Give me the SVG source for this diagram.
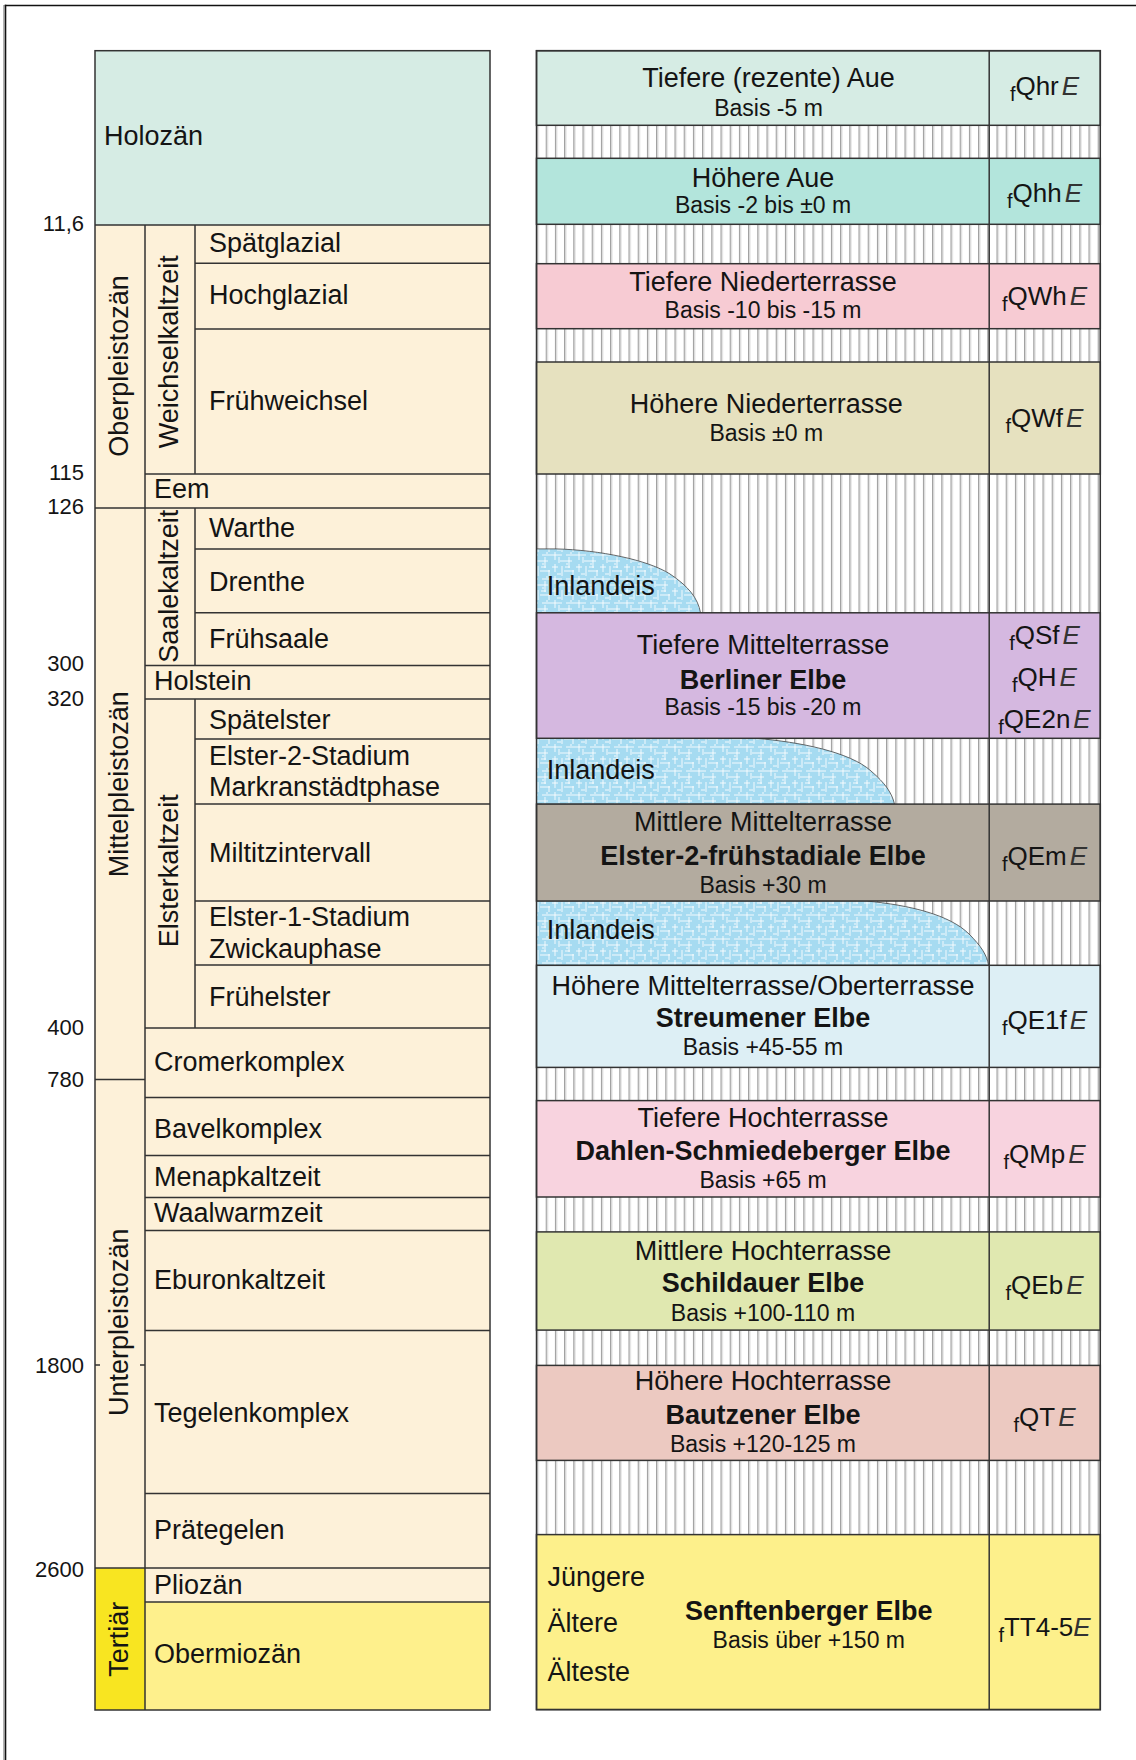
<svg xmlns="http://www.w3.org/2000/svg" width="1136" height="1760" viewBox="0 0 1136 1760">
<style>
text { font-family: "Liberation Sans", Arial, Helvetica, sans-serif; fill: #141414; }
.l { font-size: 27px; }
.n { font-size: 22px; text-anchor: end; }
.c { text-anchor: middle; }
.b { font-weight: bold; }
.s { font-size: 23px; }
.sym { font-size: 26px; text-anchor: middle; }
.sub { font-size: 20px; }
.it { font-style: italic; fill: #333; }
.ln { stroke: #333; stroke-width: 1.5; fill: none; }
.box { stroke: #333; stroke-width: 1.5; }
.ice { fill: url(#ice); stroke: #444; stroke-width: 0.8; }
</style>
<defs>
<pattern id="hatch" width="9.2" height="10" patternUnits="userSpaceOnUse" x="536.5" y="0">
<rect width="9.2" height="10" fill="#fff"/>
<rect x="0" width="1.3" height="10" fill="#9b9b9b"/>
<rect x="1.3" width="1" height="10" fill="#dadada"/>
</pattern>
<pattern id="ice" width="24" height="24" patternUnits="userSpaceOnUse">
<rect width="24" height="24" fill="#a6dbf1"/>
<path d="M0 3H10M14 3H24M3 0V8M3 12V20M8 9H20M17 5V16M0 15H6M10 14V24M12 19H22M21 18V24M5 22H9M15 11V13M7 5V11M19 0V2M13 15H18" stroke="#fff" stroke-width="1" fill="none" opacity="0.85"/>
</pattern>
</defs>
<rect width="1136" height="1760" fill="#fff"/>
<g id="frame">
<line x1="3.8" y1="5" x2="3.8" y2="1760" stroke="#aaa" stroke-width="1.4"/>
<line x1="5.5" y1="4.8" x2="5.5" y2="1760" stroke="#111" stroke-width="1.6"/>
<line x1="4.8" y1="5.5" x2="1136" y2="5.5" stroke="#111" stroke-width="1.6"/>
</g>

<!-- LEFT STRATIGRAPHY COLUMN -->
<g id="chronology">
<rect x="95" y="50.7" width="395" height="174.3" fill="#d6ece4"/>
<rect x="95" y="225" width="395" height="1343" fill="#fdf1d9"/>
<rect x="95" y="1568" width="50" height="142" fill="#f8e521"/>
<rect x="145" y="1568" width="345" height="34" fill="#fdf1d9"/>
<rect x="145" y="1602" width="345" height="108" fill="#fef08c"/>
</g>
<g id="rules">
<rect class="ln" x="95" y="50.7" width="395" height="1659.3"/>
<path class="ln" d="M95 225H490M195 263.3H490M195 329H490M145 474H490M95 507.9H490M195 548.9H490M195 612.8H490M145 665.6H490M145 698.9H490M195 739.1H490M195 804.1H490M195 901H490M195 964.9H490M145 1028H490M95 1079.6H145M145 1097.5H490M145 1155.5H490M145 1197.5H490M145 1230.5H490M145 1330.5H490M145 1493.5H490M95 1568H490M145 1602H490M95 1364.9H100M140 1364.9H145M145 225V1710M195 225V474M195 507.9V665.6M195 698.9V1028"/>
</g>
<g id="ages">
<text class="n" x="84" y="230.5">11,6</text>
<text class="n" x="84" y="480">115</text>
<text class="n" x="84" y="513.7">126</text>
<text class="n" x="84" y="671.3">300</text>
<text class="n" x="84" y="705.8">320</text>
<text class="n" x="84" y="1034.9">400</text>
<text class="n" x="84" y="1086.8">780</text>
<text class="n" x="84" y="1372.5">1800</text>
<text class="n" x="84" y="1576.5">2600</text>
</g>
<g id="series-labels">
<text class="l c" transform="translate(128.3,366) rotate(-90)">Oberpleistozän</text>
<text class="l c" transform="translate(178.3,351.7) rotate(-90)">Weichselkaltzeit</text>
<text class="l c" transform="translate(178.3,586.2) rotate(-90)">Saalekaltzeit</text>
<text class="l c" transform="translate(128.3,784.2) rotate(-90)">Mittelpleistozän</text>
<text class="l c" transform="translate(178.3,870.8) rotate(-90)">Elsterkaltzeit</text>
<text class="l c" transform="translate(128.3,1322.3) rotate(-90)">Unterpleistozän</text>
<text class="l c" transform="translate(128.3,1639.3) rotate(-90)">Tertiär</text>
</g>
<g id="stage-labels">
<text class="l" x="104" y="145.3">Holozän</text>
<text class="l" x="209" y="252.3">Spätglazial</text>
<text class="l" x="209" y="304">Hochglazial</text>
<text class="l" x="209" y="410">Frühweichsel</text>
<text class="l" x="154" y="498.4">Eem</text>
<text class="l" x="209" y="537.4">Warthe</text>
<text class="l" x="209" y="591">Drenthe</text>
<text class="l" x="209" y="648.4">Frühsaale</text>
<text class="l" x="154" y="689.7">Holstein</text>
<text class="l" x="209" y="728.8">Spätelster</text>
<text class="l" x="209" y="765.1">Elster-2-Stadium</text>
<text class="l" x="209" y="795.7">Markranstädtphase</text>
<text class="l" x="209" y="861.6">Miltitzintervall</text>
<text class="l" x="209" y="925.8">Elster-1-Stadium</text>
<text class="l" x="209" y="958.4">Zwickauphase</text>
<text class="l" x="209" y="1006.2">Frühelster</text>
<text class="l" x="154" y="1071.3">Cromerkomplex</text>
<text class="l" x="154" y="1138.1">Bavelkomplex</text>
<text class="l" x="154" y="1186.3">Menapkaltzeit</text>
<text class="l" x="154" y="1221.6">Waalwarmzeit</text>
<text class="l" x="154" y="1289">Eburonkaltzeit</text>
<text class="l" x="154" y="1421.6">Tegelenkomplex</text>
<text class="l" x="154" y="1538.6">Prätegelen</text>
<text class="l" x="154" y="1593.5">Pliozän</text>
<text class="l" x="154" y="1662.7">Obermiozän</text>
</g>

<!-- RIGHT TERRACE TABLE -->
<g id="gaps">
<rect x="536.5" y="125.3" width="563.8" height="33" fill="url(#hatch)"/>
<rect x="536.5" y="224.3" width="563.8" height="39.4" fill="url(#hatch)"/>
<rect x="536.5" y="328.7" width="563.8" height="33.3" fill="url(#hatch)"/>
<rect x="536.5" y="474" width="563.8" height="138.8" fill="url(#hatch)"/>
<rect x="536.5" y="738.3" width="563.8" height="65.8" fill="url(#hatch)"/>
<rect x="536.5" y="901" width="563.8" height="64.3" fill="url(#hatch)"/>
<rect x="536.5" y="1067.4" width="563.8" height="33.2" fill="url(#hatch)"/>
<rect x="536.5" y="1197" width="563.8" height="34.9" fill="url(#hatch)"/>
<rect x="536.5" y="1330.1" width="563.8" height="35.3" fill="url(#hatch)"/>
<rect x="536.5" y="1460.4" width="563.8" height="74.2" fill="url(#hatch)"/>
</g>
<g id="inlandeis-1">
<path class="ice" d="M536.5,548.9 L556,548.9 C600,550 648,560 670,574 C688,586 698,598 700.5,612.8 L536.5,612.8 Z"/>
<text class="l" x="546.7" y="594.8">Inlandeis</text>
</g>
<g id="inlandeis-2">
<path class="ice" d="M536.5,738.3 L756,738.3 C800,742 850,752 871,771 C885,783 892,793 894.5,804.1 L536.5,804.1 Z"/>
<text class="l" x="546.7" y="778.5">Inlandeis</text>
</g>
<g id="inlandeis-3">
<path class="ice" d="M536.5,901 L866,901 C910,905 950,915 969,934 C981,946 987,955 988.5,965.3 L536.5,965.3 Z"/>
<text class="l" x="546.7" y="939.2">Inlandeis</text>
</g>

<g id="t-tiefere-aue">
<rect class="box" x="536.5" y="50.7" width="563.8" height="74.6" fill="#d6ece4"/>
<text class="l c" x="768.5" y="87.3">Tiefere (rezente) Aue</text>
<text class="s c" x="768.5" y="115.7">Basis -5 m</text>
<text class="sym" x="1044.5" y="95"><tspan class="sub" dy="6">f</tspan><tspan dy="-6">Qhr</tspan><tspan class="it" dx="3">E</tspan></text>
</g>
<g id="t-hoehere-aue">
<rect class="box" x="536.5" y="158.3" width="563.8" height="66" fill="#b3e5dc"/>
<text class="l c" x="763" y="186.7">Höhere Aue</text>
<text class="s c" x="763" y="213.3">Basis -2 bis ±0 m</text>
<text class="sym" x="1044.5" y="201.7"><tspan class="sub" dy="6">f</tspan><tspan dy="-6">Qhh</tspan><tspan class="it" dx="3">E</tspan></text>
</g>
<g id="t-tiefere-niederterrasse">
<rect class="box" x="536.5" y="263.7" width="563.8" height="65" fill="#f7cbd3"/>
<text class="l c" x="763" y="290.7">Tiefere Niederterrasse</text>
<text class="s c" x="763" y="318.3">Basis -10 bis -15 m</text>
<text class="sym" x="1044.5" y="305"><tspan class="sub" dy="6">f</tspan><tspan dy="-6">QWh</tspan><tspan class="it" dx="3">E</tspan></text>
</g>
<g id="t-hoehere-niederterrasse">
<rect class="box" x="536.5" y="362" width="563.8" height="112" fill="#e6e1bf"/>
<text class="l c" x="766.3" y="412.7">Höhere Niederterrasse</text>
<text class="s c" x="766.3" y="440.7">Basis ±0 m</text>
<text class="sym" x="1044.5" y="426.7"><tspan class="sub" dy="6">f</tspan><tspan dy="-6">QWf</tspan><tspan class="it" dx="3">E</tspan></text>
</g>
<g id="t-tiefere-mittelterrasse">
<rect class="box" x="536.5" y="612.8" width="563.8" height="125.5" fill="#d5b8e0"/>
<text class="l c" x="763" y="654.1">Tiefere Mittelterrasse</text>
<text class="l c b" x="763" y="688.6">Berliner Elbe</text>
<text class="s c" x="763" y="714.6">Basis -15 bis -20 m</text>
<text class="sym" x="1044.5" y="643.8"><tspan class="sub" dy="6">f</tspan><tspan dy="-6">QSf</tspan><tspan class="it" dx="3">E</tspan></text>
<text class="sym" x="1044.5" y="685.5"><tspan class="sub" dy="6">f</tspan><tspan dy="-6">QH</tspan><tspan class="it" dx="3">E</tspan></text>
<text class="sym" x="1044.5" y="728"><tspan class="sub" dy="6">f</tspan><tspan dy="-6">QE2n</tspan><tspan class="it" dx="3">E</tspan></text>
</g>
<g id="t-mittlere-mittelterrasse">
<rect class="box" x="536.5" y="804.1" width="563.8" height="96.9" fill="#b3ab9f"/>
<text class="l c" x="763" y="831.3">Mittlere Mittelterrasse</text>
<text class="l c b" x="763" y="864.6">Elster-2-frühstadiale Elbe</text>
<text class="s c" x="763" y="892.5">Basis +30 m</text>
<text class="sym" x="1044.5" y="864.6"><tspan class="sub" dy="6">f</tspan><tspan dy="-6">QEm</tspan><tspan class="it" dx="3">E</tspan></text>
</g>
<g id="t-hoehere-mittelterrasse">
<rect class="box" x="536.5" y="965.3" width="563.8" height="102.1" fill="#ddeff5"/>
<text class="l c" x="763" y="994.7">Höhere Mittelterrasse/Oberterrasse</text>
<text class="l c b" x="763" y="1027.3">Streumener Elbe</text>
<text class="s c" x="763" y="1055.2">Basis +45-55 m</text>
<text class="sym" x="1044.5" y="1029.2"><tspan class="sub" dy="6">f</tspan><tspan dy="-6">QE1f</tspan><tspan class="it" dx="3">E</tspan></text>
</g>
<g id="t-tiefere-hochterrasse">
<rect class="box" x="536.5" y="1100.6" width="563.8" height="96.4" fill="#f8d3df"/>
<text class="l c" x="763" y="1127">Tiefere Hochterrasse</text>
<text class="l c b" x="763" y="1160.4">Dahlen-Schmiedeberger Elbe</text>
<text class="s c" x="763" y="1188.1">Basis +65 m</text>
<text class="sym" x="1044.5" y="1162.7"><tspan class="sub" dy="6">f</tspan><tspan dy="-6">QMp</tspan><tspan class="it" dx="3">E</tspan></text>
</g>
<g id="t-mittlere-hochterrasse">
<rect class="box" x="536.5" y="1231.9" width="563.8" height="98.2" fill="#e0e8b0"/>
<text class="l c" x="763" y="1259.6">Mittlere Hochterrasse</text>
<text class="l c b" x="763" y="1292.1">Schildauer Elbe</text>
<text class="s c" x="763" y="1321.2">Basis +100-110 m</text>
<text class="sym" x="1044.5" y="1294.4"><tspan class="sub" dy="6">f</tspan><tspan dy="-6">QEb</tspan><tspan class="it" dx="3">E</tspan></text>
</g>
<g id="t-hoehere-hochterrasse">
<rect class="box" x="536.5" y="1365.4" width="563.8" height="95" fill="#ecc9c1"/>
<text class="l c" x="763" y="1390.4">Höhere Hochterrasse</text>
<text class="l c b" x="763" y="1423.8">Bautzener Elbe</text>
<text class="s c" x="763" y="1452">Basis +120-125 m</text>
<text class="sym" x="1044.5" y="1426.1"><tspan class="sub" dy="6">f</tspan><tspan dy="-6">QT</tspan><tspan class="it" dx="3">E</tspan></text>
</g>
<g id="t-senftenberger-elbe">
<rect class="box" x="536.5" y="1534.6" width="563.8" height="175" fill="#fdf08b"/>
<text class="l" x="547.5" y="1585.9">Jüngere</text>
<text class="l" x="547.5" y="1632.3">Ältere</text>
<text class="l" x="547.5" y="1680.5">Älteste</text>
<text class="l c b" x="808.8" y="1620.3">Senftenberger Elbe</text>
<text class="s c" x="808.8" y="1648.4">Basis über +150 m</text>
<text class="sym" x="1044.5" y="1635.9"><tspan class="sub" dy="6">f</tspan><tspan dy="-6">TT4-5</tspan><tspan class="it">E</tspan></text>
</g>
<g id="table-rules">
<rect class="ln" x="536.5" y="50.7" width="563.8" height="1658.9"/>
<line class="ln" x1="989.2" y1="50.7" x2="989.2" y2="1709.6"/>
</g>
</svg>
